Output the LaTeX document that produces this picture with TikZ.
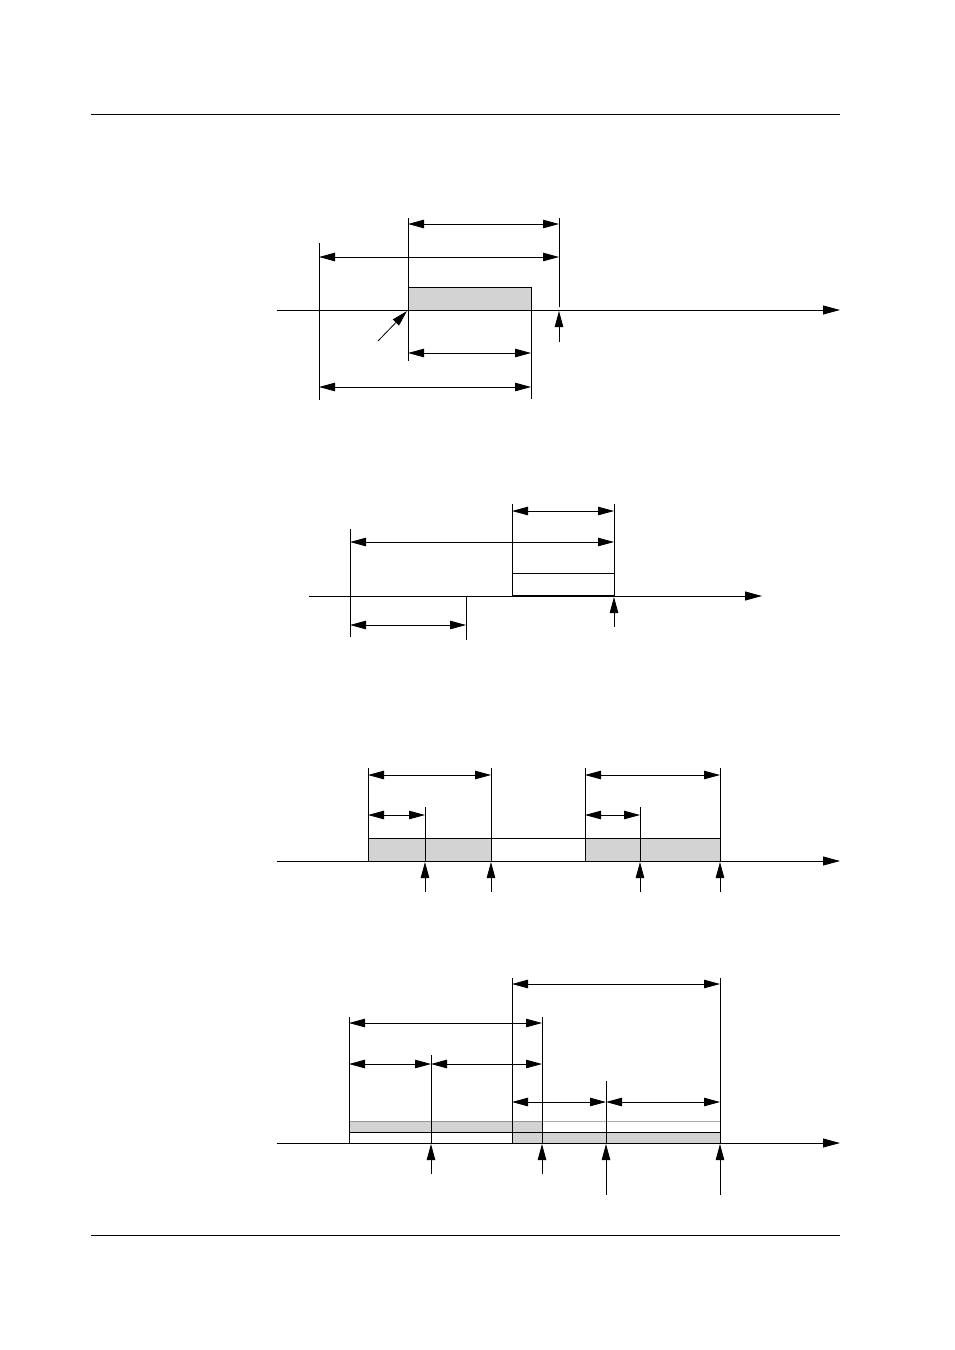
\documentclass[tikz,border=0pt]{standalone}
\usetikzlibrary{arrows.meta}
\definecolor{boxgray}{RGB}{211,211,211}
\definecolor{edgegray}{RGB}{150,150,150}
\definecolor{edgelight}{RGB}{175,175,175}
\tikzset{
  ln/.style={line width=0.8pt},
  dim/.style={line width=0.8pt,{Triangle[length=16pt,width=8.5pt]}-{Triangle[length=16pt,width=8.5pt]}},
  axisline/.style={line width=0.8pt,-{Triangle[length=17pt,width=9pt]}},
  uparrow/.style={line width=0.8pt,-{Triangle[length=16pt,width=8.5pt]}},
  gbox/.style={fill=boxgray,draw=black,line width=0.8pt},
}
\begin{document}
\begin{tikzpicture}[x=1pt,y=-1pt]
\useasboundingbox (0,0) rectangle (954,1350);
\fill[white] (0,0) rectangle (954,1350);
% header / footer rules
\draw[line width=1pt] (91,114) -- (840,114);
\draw[line width=1pt] (91,1235) -- (840,1235);

% ---------- Diagram 1 ----------
\draw[gbox] (408,287) rectangle (531,310);
\draw[axisline] (277,310) -- (840,310);
\draw[ln] (319,243) -- (319,400);
\draw[ln] (408,218) -- (408,361);
\draw[ln] (531,287) -- (531,399);
\draw[ln] (559,218) -- (559,307);
\draw[uparrow] (559,342) -- (559,311);
\draw[dim] (408,224) -- (559,224);
\draw[dim] (319,257) -- (559,257);
\draw[dim] (408,353) -- (531,353);
\draw[dim] (319,387) -- (531,387);
\draw[uparrow] (378,341) -- (407,311);

% ---------- Diagram 2 ----------
\draw[axisline] (309,596) -- (762,596);
\draw[ln] (350,529) -- (350,637);
\draw[ln] (466,596) -- (466,640);
\draw[ln] (512,504) -- (512,596);
\draw[ln] (614,504) -- (614,596);
\draw[ln] (512,573) -- (614,573);
\draw[line width=2pt] (512,596) -- (614,596);
\draw[uparrow] (614,627) -- (614,597);
\draw[dim] (512,511) -- (614,511);
\draw[dim] (350,542) -- (614,542);
\draw[dim] (350,625) -- (466,625);

% ---------- Diagram 3 ----------
\fill[boxgray] (368,838) rectangle (491,861);
\fill[boxgray] (585,838) rectangle (720,861);
\draw[axisline] (277,861) -- (840,861);
\draw[ln] (368,838) -- (720,838);
\draw[ln] (368,768) -- (368,861);
\draw[ln] (491,768) -- (491,861);
\draw[ln] (585,768) -- (585,861);
\draw[ln] (720,768) -- (720,861);
\draw[ln] (425,807) -- (425,861);
\draw[ln] (640,807) -- (640,861);
\draw[dim] (368,775) -- (491,775);
\draw[dim] (585,775) -- (720,775);
\draw[dim] (368,815) -- (425,815);
\draw[dim] (585,815) -- (640,815);
\foreach \xx in {425,491,640,720} {
  \draw[uparrow] (\xx,892) -- (\xx,862);
}

% ---------- Diagram 4 ----------
\fill[boxgray] (349,1121) rectangle (542,1132);
\fill[boxgray] (512,1132) rectangle (720,1143);
\draw[edgegray,line width=0.8pt] (349,1121) -- (542,1121);
\draw[edgelight,line width=0.8pt] (542,1121) -- (720,1121);
\draw[ln] (349,1132) -- (720,1132);
\draw[axisline] (277,1143) -- (840,1143);
\draw[ln] (349,1017) -- (349,1143);
\draw[ln] (431,1055) -- (431,1143);
\draw[ln] (512,978) -- (512,1143);
\draw[ln] (542,1017) -- (542,1143);
\draw[ln] (606,1081) -- (606,1143);
\draw[ln] (720,978) -- (720,1143);
\draw[dim] (512,984) -- (720,984);
\draw[dim] (349,1023) -- (542,1023);
\draw[dim] (349,1064) -- (431,1064);
\draw[dim] (431,1064) -- (542,1064);
\draw[dim] (512,1102) -- (606,1102);
\draw[dim] (606,1102) -- (720,1102);
\draw[uparrow] (431,1174) -- (431,1144);
\draw[uparrow] (542,1174) -- (542,1144);
\draw[uparrow] (606,1195) -- (606,1144);
\draw[uparrow] (720,1195) -- (720,1144);
\end{tikzpicture}
\end{document}
